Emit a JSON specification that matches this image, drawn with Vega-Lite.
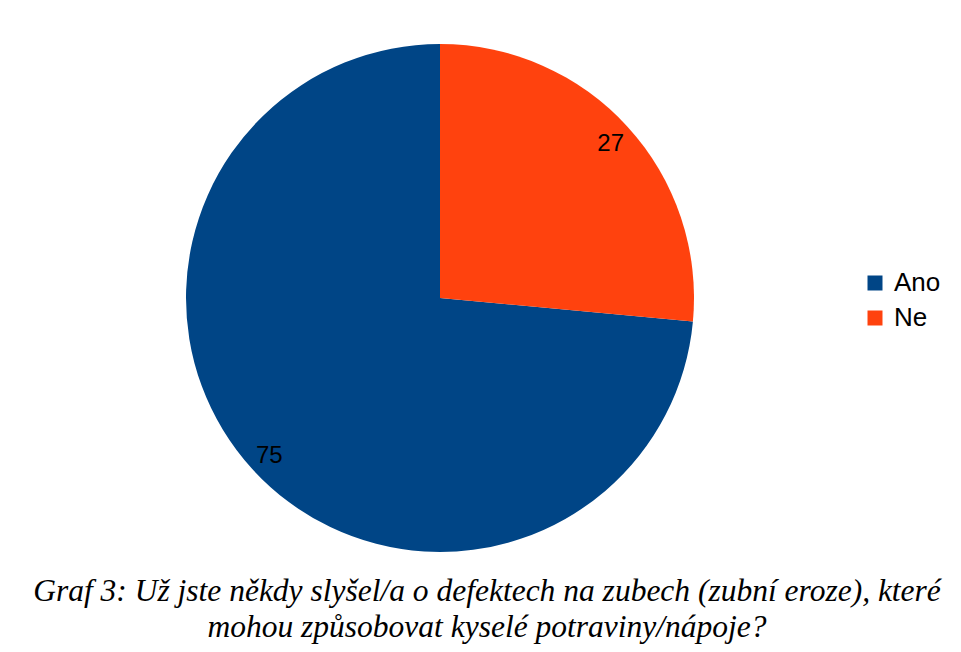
{
  "$schema": "https://vega.github.io/schema/vega-lite/v6.json",
  "width": 880,
  "height": 540,
  "autosize": {"type": "none"},
  "padding": {"left": 0, "top": 28, "right": 81, "bottom": 84},
  "background": "white",
  "config": {"view": {"stroke": null}},
  "data": {"values": [
    {"odpoved": "Ano", "pocet": 75},
    {"odpoved": "Ne", "pocet": 27}
  ]},
  "title": {
    "text": ["Graf 3: Už jste někdy slyšel/a o defektech na zubech (zubní eroze), které", "mohou způsobovat kyselé potraviny/nápoje?"],
    "orient": "bottom",
    "anchor": "middle",
    "dx": 47,
    "offset": 8,
    "font": "'Liberation Serif', 'Times New Roman', serif",
    "fontStyle": "italic",
    "fontWeight": "normal",
    "fontSize": 31.5,
    "lineHeight": 36,
    "color": "black"
  },
  "encoding": {
    "theta": {"field": "pocet", "type": "quantitative", "stack": true},
    "order": {"field": "odpoved", "sort": "descending"}
  },
  "layer": [
    {
      "mark": {"type": "arc", "outerRadius": 254},
      "encoding": {
        "color": {
          "field": "odpoved",
          "type": "nominal",
          "scale": {"domain": ["Ano", "Ne"], "range": ["#004586", "#ff420e"]},
          "legend": {
            "title": null,
            "orient": "none",
            "legendX": 862,
            "legendY": 242,
            "symbolType": "square",
            "symbolSize": 225,
            "symbolStrokeWidth": 0,
            "labelFont": "Liberation Sans",
            "labelFontSize": 26,
            "labelColor": "black",
            "labelOffset": 6,
            "rowPadding": 9
          }
        }
      }
    },
    {
      "mark": {"type": "text", "radius": 231, "font": "Liberation Sans", "fontSize": 24, "color": "black", "baseline": "middle", "align": "center", "dy": 2},
      "encoding": {
        "text": {"field": "pocet", "type": "quantitative"}
      }
    }
  ]
}
